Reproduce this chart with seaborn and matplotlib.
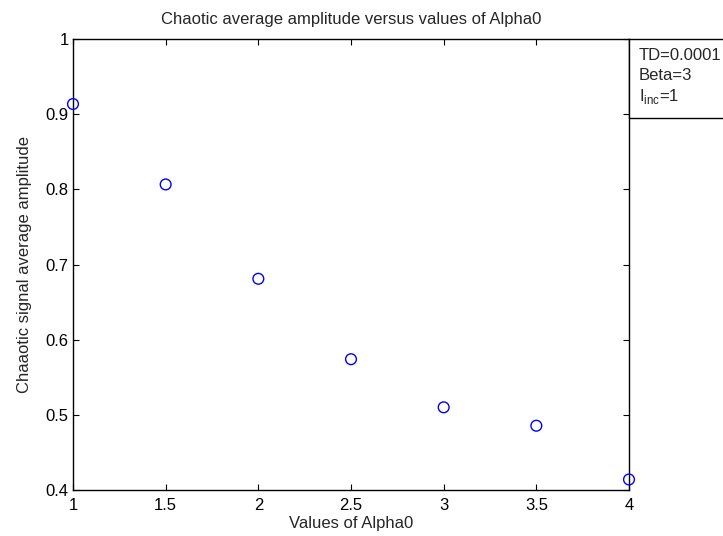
import matplotlib
matplotlib.use("Agg")
import matplotlib.pyplot as plt
from matplotlib.patches import Rectangle
import seaborn as sns
import pandas as pd

alpha0 = [1.0, 1.5, 2.0, 2.5, 3.0, 3.5, 4.0]
amplitude = [0.9135, 0.8065, 0.681, 0.574, 0.510, 0.4855, 0.414]
x_ticks = [1, 1.5, 2, 2.5, 3, 3.5, 4]
x_tick_labels = ["1", "1.5", "2", "2.5", "3", "3.5", "4"]
y_ticks = [0.4, 0.5, 0.6, 0.7, 0.8, 0.9, 1.0]
y_tick_labels = ["0.4", "0.5", "0.6", "0.7", "0.8", "0.9", "1"]

sns.set_theme(style="white")
plt.rcParams["font.family"] = ["Liberation Sans", "DejaVu Sans"]
plt.rcParams["font.size"] = 12

df = pd.DataFrame({"alpha0": alpha0, "amplitude": amplitude})

fig = plt.figure(figsize=(7.23, 5.36), dpi=100)
ax = fig.add_axes([73 / 723, 1 - 490 / 536, (629 - 73) / 723, (490 - 39) / 536])

sns.scatterplot(data=df, x="alpha0", y="amplitude", ax=ax, marker="o",
                s=60, facecolor="none", edgecolor="#0000ff", linewidth=1.0,
                clip_on=False, zorder=5)

ax.set_xlim(1, 4)
ax.set_ylim(0.4, 1.0)
ax.set_xticks(x_ticks)
ax.set_xticklabels(x_tick_labels)
ax.set_yticks(y_ticks)
ax.set_yticklabels(y_tick_labels)
ax.tick_params(direction="in", length=4, width=0.8, colors="black",
               labelsize=12, top=True, right=True, bottom=True, left=True)
ax.tick_params(axis="y", pad=3)
ax.tick_params(axis="x", pad=6)
for sp in ax.spines.values():
    sp.set_color("black")
    sp.set_linewidth(1.0)

ax.set_title("Chaotic average amplitude versus values of Alpha0", fontsize=12, y=1.0, pad=11)
ax.set_xlabel("Values of Alpha0", fontsize=12, labelpad=2)
ax.set_ylabel("Chaaotic signal average amplitude", fontsize=12, labelpad=10)

# parameter box on the right edge
box = Rectangle((629 / 723, 1 - 118 / 536), 0.2, (118 - 39) / 536,
                transform=fig.transFigure, facecolor="white", edgecolor="black",
                linewidth=1.0, clip_on=False)
fig.patches.append(box)
fig.text(639 / 723, 1 - 55 / 536, "TD=0.0001", fontsize=12, va="center", ha="left")
fig.text(639 / 723, 1 - 75 / 536, "Beta=3", fontsize=12, va="center", ha="left")
fig.text(639 / 723, 1 - 96 / 536, r"I$_{\mathregular{inc}}$=1", fontsize=12, va="center", ha="left")

fig.savefig("out.png", dpi=100)
